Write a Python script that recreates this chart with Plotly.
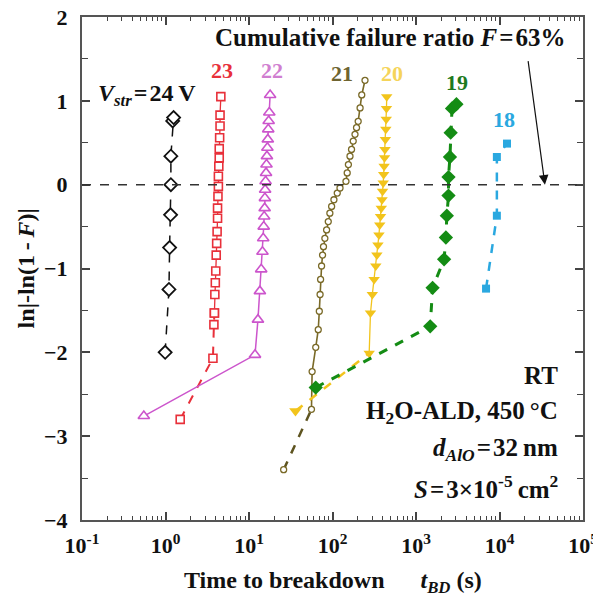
import plotly.graph_objects as go
import math

# ---------------- data ----------------
t24 = [0.99, 1.1, 1.12, 1.15, 1.16, 1.16, 1.22, 1.25]
y24 = [-2.0, -1.25, -0.75, -0.36, 0.0, 0.34, 0.76, 0.80]

t23 = [1.5, 3.7, 3.8, 3.85, 3.9, 3.95, 4.0, 4.05, 4.1, 4.15, 4.2, 4.2, 4.25, 4.3, 4.3, 4.35, 4.4, 4.4, 4.45, 4.5, 4.5, 4.6]
y23 = [-2.80, -2.07, -1.67, -1.53, -1.31, -1.17, -1.03, -0.84, -0.70, -0.56, -0.40, -0.28, -0.14, -0.02, 0.10, 0.22, 0.32, 0.43, 0.56, 0.70, 0.83, 1.05]

t22 = [0.55, 11.8, 12.8, 13.5, 14.0, 14.5, 14.8, 15.0, 15.2, 15.4, 15.5, 15.6, 15.8, 16.0, 16.2, 16.4, 16.6, 16.8, 17.0, 17.2, 17.5, 17.9]
y22 = [-2.76, -2.03, -1.61, -1.27, -1.01, -0.80, -0.64, -0.50, -0.38, -0.28, -0.16, -0.06, 0.04, 0.14, 0.24, 0.34, 0.44, 0.54, 0.66, 0.76, 0.86, 1.07]

t21 = [26, 56, 57, 63, 67.5, 69.5, 71, 72, 74, 76, 78, 81, 85, 89, 93, 97.6, 104, 114, 123, 145, 150, 155, 162, 169, 177, 186, 194, 203, 214, 224, 245]
y21 = [-3.40, -2.68, -2.23, -1.94, -1.73, -1.51, -1.31, -1.13, -0.97, -0.84, -0.74, -0.64, -0.54, -0.44, -0.34, -0.26, -0.18, -0.10, -0.04, 0.04, 0.14, 0.24, 0.34, 0.42, 0.52, 0.60, 0.68, 0.755, 0.915, 1.07, 1.245]

t20 = [36, 275, 285, 300, 315, 330, 340, 350, 360, 368, 376, 384, 392, 398, 405, 410, 415, 420, 425, 430, 435, 440, 443, 446]
y20 = [-2.70, -2.01, -1.53, -1.31, -1.13, -0.97, -0.84, -0.72, -0.60, -0.48, -0.38, -0.28, -0.18, -0.08, 0.02, 0.12, 0.22, 0.32, 0.42, 0.54, 0.66, 0.78, 0.91, 1.05]

t19 = [63, 1480, 1580, 2170, 2280, 2340, 2450, 2450, 2550, 2600, 2700, 3050]
y19 = [-2.42, -1.69, -1.23, -0.89, -0.63, -0.37, -0.13, 0.09, 0.33, 0.62, 0.91, 0.96]

t18 = [6900, 9300, 9300, 12300]
y18 = [-1.24, -0.37, 0.33, 0.49]

x_tick_vals = [0.1, 1, 10, 100, 1000, 10000, 100000]
x_tick_text = ["10<sup>-1</sup>", "10<sup>0</sup>", "10<sup>1</sup>", "10<sup>2</sup>",
               "10<sup>3</sup>", "10<sup>4</sup>", "10<sup>5</sup>"]
y_tick_vals = [-4, -3, -2, -1, 0, 1, 2]

F_LINE = 63  # cumulative failure ratio (%) -> ln(-ln(1-F)) = 0

# ---------------- styling ----------------
FONT = "Liberation Serif, Times New Roman, serif"
C24, C23, C22, C21, C20, C19, C18 = "#111111", "#E8303A", "#CC55CC", "#7A6A28", "#F2C41C", "#148C14", "#2AA8E0"

fig = go.Figure()

def add(t, y, color, symbol, size, dash, width, fill=False, mlw=1.6, mode="lines+markers"):
    fig.add_trace(go.Scatter(
        x=t, y=y, mode=mode,
        line=dict(color=color, width=width, dash=dash),
        marker=dict(symbol=symbol, size=size,
                    color=color if fill else "white",
                    line=dict(color=color, width=mlw)),
        showlegend=False))

def tail(t, y, color, dash, width):
    fig.add_trace(go.Scatter(x=t, y=y, mode="lines",
                             line=dict(color=color, width=width, dash=dash),
                             showlegend=False))

# 24 V
add(t24, y24, C24, "diamond", 10, "dash", 1.5, mlw=1.8)
# 23 V
tail(t23[:4], y23[:4], C23, "dash", 2)
add(t23[3:], y23[3:], C23, "square", 8, "solid", 1.3)
add(t23[:4], y23[:4], C23, "square", 8, "solid", 1.3, mode="markers")
# 22 V
add(t22, y22, C22, "triangle-up", 10, "solid", 1.5)
# 21 V
tail(t21[:2], y21[:2], "#5E5420", "dash", 2.5)
add(t21[1:], y21[1:], C21, "circle", 6, "solid", 1.6, mlw=1.3)
add(t21[:1], y21[:1], C21, "circle", 6, "solid", 1.6, mlw=1.3, mode="markers")
# 20 V
tail(t20[:2], y20[:2], C20, "dash", 2.5)
add(t20[1:], y20[1:], C20, "triangle-down", 10, "solid", 1.3, fill=True, mlw=0)
add(t20[:1], y20[:1], C20, "triangle-down", 11, "solid", 1.3, fill=True, mlw=0, mode="markers")
# 19 V
add(t19, y19, C19, "diamond", 11, "dash", 3, fill=True, mlw=0)
# 18 V
add(t18, y18, C18, "square", 8, "dash", 2.5, fill=True, mlw=0)

# horizontal F = 63 % line
fig.add_shape(type="line", xref="paper", x0=0, x1=1, yref="y", y0=0, y1=0,
              line=dict(color="#333333", width=1.5, dash="dash"))

def txt(x, y, s, color="#111111", size=23, xanchor="center"):
    fig.add_annotation(xref="paper", yref="paper", x=x, y=y, text=s, showarrow=False,
                       xanchor=xanchor, yanchor="middle",
                       font=dict(family=FONT, size=size, color=color, weight="bold"))

txt(0.615, 0.960, "Cumulative failure ratio <i>F</i>\u200a=\u200a%d%%" % F_LINE, size=25)
txt(0.13, 0.845, "<i>V</i><sub><i>str</i></sub>\u200a=\u200a24\u2009V", size=24)
txt(0.279, 0.893, "23", C23, 22)
txt(0.379, 0.893, "22", "#D07ED0", 22)
txt(0.519, 0.887, "21", "#6E6430", 22)
txt(0.619, 0.887, "20", "#F5D45A", 22)
txt(0.749, 0.870, "19", "#1E7A1E", 22)
txt(0.842, 0.796, "18", C18, 22)

txt(0.955, 0.287, "RT", size=25, xanchor="right")
txt(0.955, 0.214, "H<sub>2</sub>O-ALD, 450\u2009\u00b0C", size=25, xanchor="right")
txt(0.955, 0.140, "<i>d</i><sub><i>AlO</i></sub>\u200a=\u200a32\u2009nm", size=25, xanchor="right")
txt(0.955, 0.066, "<i>S</i>\u200a=\u200a3\u00d710<sup>-5</sup>\u2009cm<sup>2</sup>", size=25, xanchor="right")

# arrow pointing at the F = 63 % line
fig.add_annotation(xref="x", yref="y", x=math.log10(35000), y=0, ax=-17, ay=-125,
                   showarrow=True, arrowhead=2, arrowsize=1.6, arrowwidth=1.2,
                   arrowcolor="#111111", text="", standoff=0)

# axis titles
fig.add_annotation(xref="paper", yref="paper", x=-0.112, y=0.5, showarrow=False,
                   xanchor="center", yanchor="middle",
                   text="ln|-ln(1\u2009-\u2009<i>F</i>)|", textangle=-90,
                   font=dict(family=FONT, size=24, color="#111111", weight="bold"))
fig.add_annotation(xref="paper", yref="paper", x=0.5, y=-0.124, showarrow=False,
                   xanchor="center", yanchor="middle",
                   text="Time to breakdown\u2003\u2002<i>t</i><sub><i>BD</i></sub> (s)",
                   font=dict(family=FONT, size=24, color="#111111", weight="bold"))

minor_x = [m * 10 ** e for e in range(-1, 5) for m in range(2, 10)]

fig.update_layout(
    width=601, height=600,
    margin=dict(l=74, r=26, t=9, b=88, autoexpand=False),
    paper_bgcolor="white", plot_bgcolor="white",
    xaxis=dict(type="log", range=[-1, 5], tickmode="array", tickvals=x_tick_vals, ticktext=x_tick_text,
               ticks="inside", ticklen=8, tickwidth=1.5, tickcolor="#444444",
               showline=True, linecolor="#555555", linewidth=2, mirror="allticks",
               showgrid=False, zeroline=False, ticklabelstandoff=5, ticklabeloverflow="allow",
               automargin=False,
               minor=dict(tickmode="array", tickvals=minor_x, ticks="inside", ticklen=4,
                          tickwidth=1.2, tickcolor="#444444", showgrid=False),
               tickfont=dict(family=FONT, size=22, color="#111111", weight="bold")),
    yaxis=dict(range=[-4, 2], tickmode="array", tickvals=y_tick_vals,
               ticks="inside", ticklen=8, tickwidth=1.5, tickcolor="#444444",
               showline=True, linecolor="#555555", linewidth=2, mirror="allticks",
               showgrid=False, zeroline=False, ticklabelstandoff=8, ticklabeloverflow="allow",
               automargin=False,
               minor=dict(dtick=0.5, ticks="inside", ticklen=6, tickwidth=1.2,
                          tickcolor="#444444", showgrid=False),
               tickfont=dict(family=FONT, size=22, color="#111111", weight="bold")),
)

fig.write_html("out.html")
